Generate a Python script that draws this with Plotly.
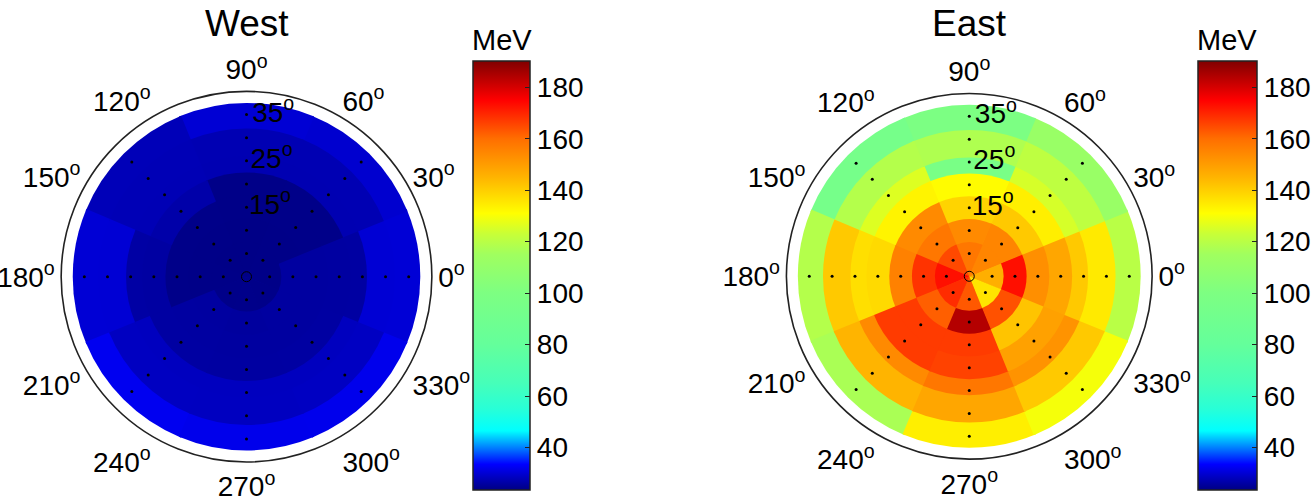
import plotly.graph_objects as go

FONT = "Arial, Liberation Sans, sans-serif"

# ---------------- data ----------------
angles = [0, 45, 90, 135, 180, 225, 270, 315]          # sector centres (deg)
ring_centers = [5, 10, 15, 20, 25, 30, 35]              # zenith-angle rings (deg)
ring_outer = [7.5, 12.5, 17.5, 22.5, 26, 32, 37.5]      # outer boundary of each ring (deg)

# mean energy (MeV), one row per ring, columns follow `angles`
west = [
    [23.9, 23.9, 23.8, 23.8, 23.9, 24.0, 24.1, 24.0],
    [25.8, 23.9, 23.8, 23.9, 23.9, 25.8, 25.7, 25.8],
    [25.8, 24.0, 23.9, 24.0, 24.0, 25.9, 25.8, 25.8],
    [25.9, 24.0, 23.9, 26.6, 26.0, 26.0, 25.9, 26.0],
    [26.0, 27.3, 27.3, 27.5, 26.2, 28.3, 28.3, 28.3],
    [30.0, 27.4, 27.4, 27.6, 30.0, 28.5, 28.4, 28.6],
    [30.2, 29.6, 30.0, 27.8, 30.1, 32.3, 31.9, 32.0],
]
east = [
    [146, 155, 158, 165, 173, 169, 163, 136],
    [173, 155, 154, 158, 168, 162, 184, 164],
    [153, 141, 139, 154, 156, 167, 167, 142],
    [148, 134, 131.5, 133, 138, 167, 166, 149],
    [141, 125, 97, 126, 137, 154, 158, 152],
    [135, 121, 118, 119, 141, 145, 148, 141],
    [120, 112, 99, 94, 119, 117, 134, 129.5],
]

angle_ticks = list(range(0, 360, 30))
radial_labels = [15, 25, 35]
cbar_ticks = [40, 60, 80, 100, 120, 140, 160, 180]
cmin, cmax = 23.5, 190.2

# jet-like colour map (value, rgb)
cmap_values = [23.5, 33.5, 40, 46.5, 55, 65, 80, 100, 115, 123, 131, 145, 160, 175, 190.2]
cmap_colors = ["rgb(0,0,131)", "rgb(0,0,255)", "rgb(0,128,255)", "rgb(0,255,255)",
               "rgb(40,255,215)", "rgb(70,255,185)", "rgb(100,255,155)", "rgb(125,255,130)",
               "rgb(160,255,95)", "rgb(200,255,55)", "rgb(255,255,0)", "rgb(255,180,0)",
               "rgb(255,110,0)", "rgb(255,0,0)", "rgb(128,0,0)"]
colorscale = [[(v - cmin) / (cmax - cmin), c] for v, c in zip(cmap_values, cmap_colors)]

W, H = 1316, 496
panels = [
    dict(name="West", data=west, cx=246.7, cy=276.7, rad=185.5, cb_x=473.3, cb_w=57.4,
         polar="polar", cax="coloraxis"),
    dict(name="East", data=east, cx=970.0, cy=276.3, rad=183.0, cb_x=1198.3, cb_w=58.5,
         polar="polar2", cax="coloraxis2"),
]

TICK_FS = 28
SECTOR_W = 45.8   # sectors drawn slightly wide so neighbours overlap (no seams)

fig = go.Figure()
layout = dict(width=W, height=H, margin=dict(l=0, r=0, t=0, b=0),
              paper_bgcolor="white", plot_bgcolor="white", showlegend=False,
              font=dict(family=FONT, color="black", size=TICK_FS), annotations=[])

for p in panels:
    # outer rings first, each drawn from the centre, so inner rings cover them
    th, rr, cc = [], [], []
    for i in reversed(range(len(ring_outer))):
        for a, v in zip(angles, p["data"][i]):
            th.append(a)
            rr.append(ring_outer[i])
            cc.append(v)
    fig.add_trace(go.Barpolar(
        theta=th, r=rr, width=[SECTOR_W] * len(th), subplot=p["polar"],
        marker=dict(color=cc, coloraxis=p["cax"], line=dict(width=0)),
        hoverinfo="skip"))
    # sample-point dots
    dr, dt = [], []
    for r in ring_centers:
        for a in angles:
            dr.append(r)
            dt.append(a)
    fig.add_trace(go.Scatterpolar(r=dr, theta=dt, mode="markers", subplot=p["polar"],
                                  marker=dict(size=3, color="black"), hoverinfo="skip"))
    fig.add_trace(go.Scatterpolar(r=[0], theta=[0], mode="markers", subplot=p["polar"],
                                  marker=dict(symbol="circle-open", size=10, color="black",
                                              line=dict(width=1)), hoverinfo="skip"))
    fig.add_trace(go.Scatterpolar(r=radial_labels, theta=[88] * len(radial_labels), mode="text",
                                  subplot=p["polar"],
                                  text=[f"{v}<sup>o</sup>" for v in radial_labels],
                                  textposition="middle right",
                                  textfont=dict(size=TICK_FS, color="black", family=FONT),
                                  hoverinfo="skip"))

    x0 = (p["cx"] - p["rad"]) / W
    x1 = (p["cx"] + p["rad"]) / W
    y0 = (H - p["cy"] - p["rad"]) / H
    y1 = (H - p["cy"] + p["rad"]) / H
    layout[p["polar"]] = dict(
        domain=dict(x=[x0, x1], y=[y0, y1]),
        bgcolor="white",
        barmode="overlay",
        angularaxis=dict(direction="counterclockwise", rotation=0, tickmode="array",
                         tickvals=angle_ticks,
                         ticktext=[f"{a}<sup>o</sup>" for a in angle_ticks],
                         showgrid=False, showline=True, linecolor="#222", linewidth=1.6,
                         ticks="", tickfont=dict(size=TICK_FS, color="black", family=FONT)),
        radialaxis=dict(range=[0, 40], showgrid=False, showline=False, ticks="",
                        showticklabels=False),
    )
    layout[p["cax"]] = dict(
        cmin=cmin, cmax=cmax, colorscale=colorscale,
        colorbar=dict(x=p["cb_x"] / W, xanchor="left", xpad=0, ypad=0,
                      thickness=p["cb_w"], thicknessmode="pixels",
                      len=429 / H, lenmode="fraction", y=(H - 275.5) / H, yanchor="middle",
                      tickmode="array", tickvals=cbar_ticks, ticks="inside", ticklen=5,
                      tickcolor="#222", outlinecolor="#222", outlinewidth=1.5,
                      tickfont=dict(size=TICK_FS, color="black", family=FONT)),
    )
    layout["annotations"].append(dict(
        text=p["name"], x=p["cx"] / W, y=1 - 24 / H, xref="paper", yref="paper",
        xanchor="center", yanchor="middle", showarrow=False,
        font=dict(size=37, color="black", family=FONT)))
    layout["annotations"].append(dict(
        text="MeV", x=(p["cb_x"] + p["cb_w"] / 2) / W, y=1 - 40 / H, xref="paper", yref="paper",
        xanchor="center", yanchor="middle", showarrow=False,
        font=dict(size=29, color="black", family=FONT)))

fig.update_layout(**layout)
fig.write_html("out.html")
